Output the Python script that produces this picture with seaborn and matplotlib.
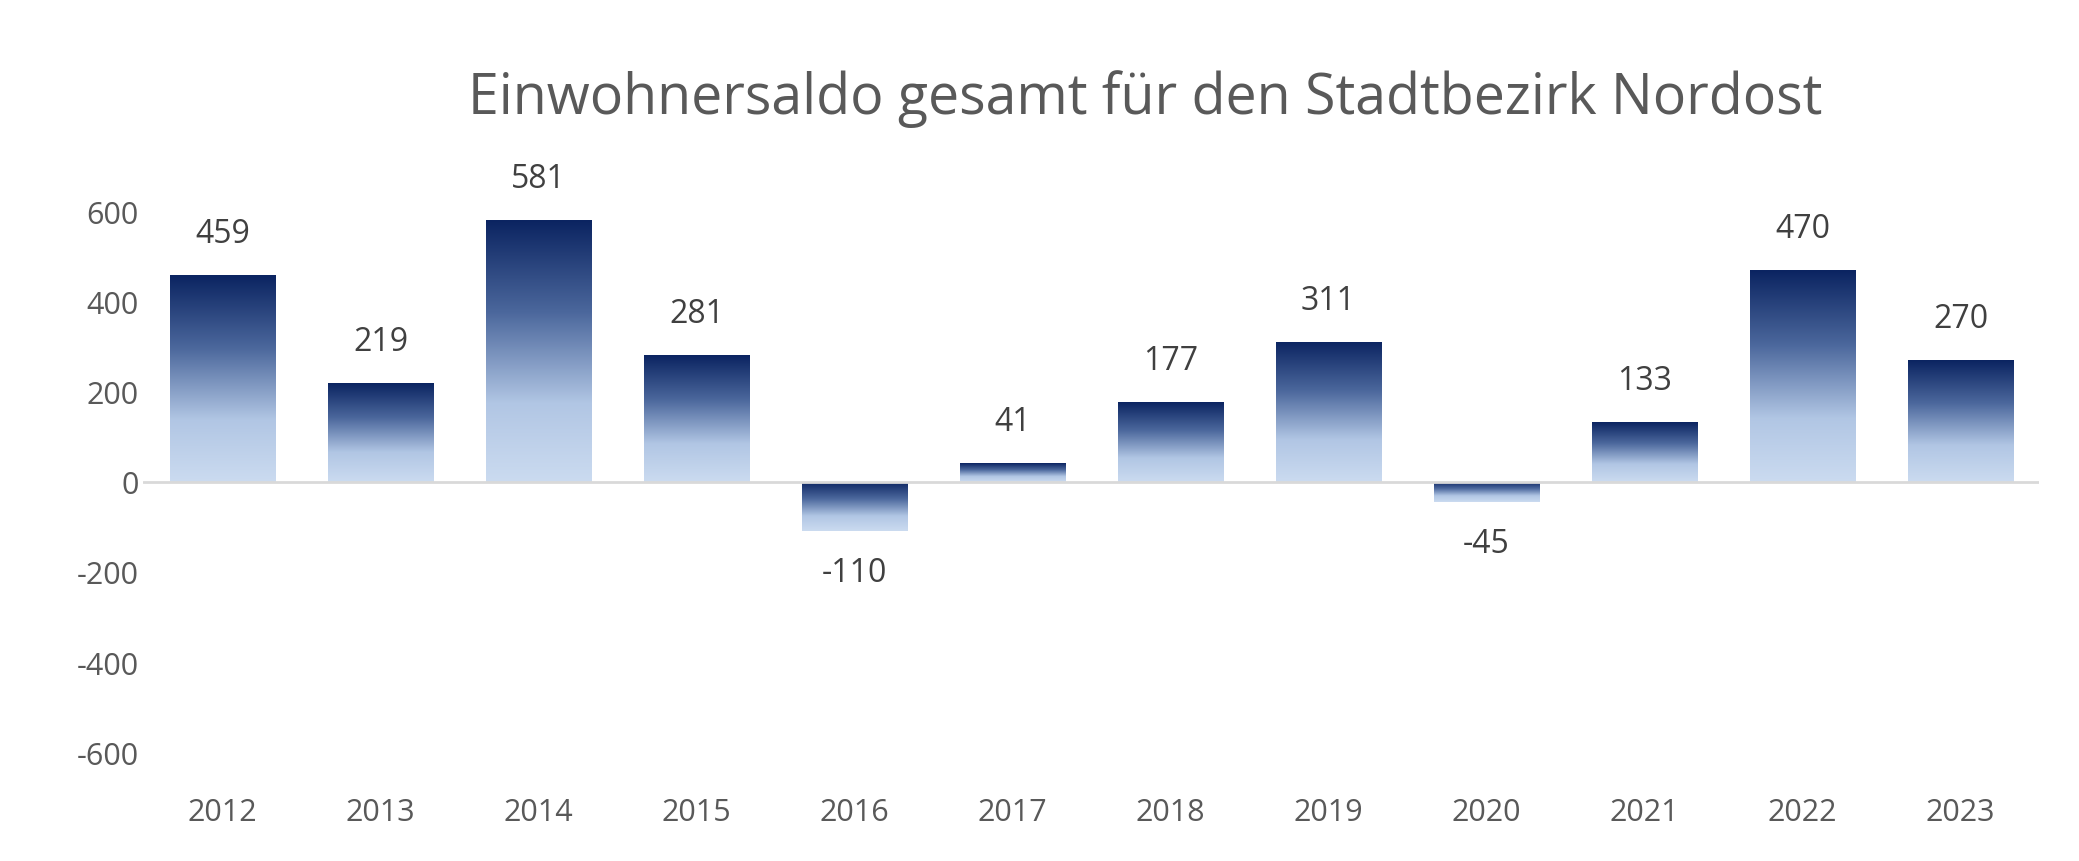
import matplotlib
matplotlib.use("Agg")
import matplotlib.pyplot as plt
import seaborn as sns
import numpy as np
import pandas as pd
from matplotlib.colors import LinearSegmentedColormap

years = ["2012","2013","2014","2015","2016","2017","2018","2019","2020","2021","2022","2023"]
values = [459, 219, 581, 281, -110, 41, 177, 311, -45, 133, 470, 270]
title = "Einwohnersaldo gesamt für den Stadtbezirk Nordost"

sns.set_style("white")
plt.rcParams['font.family'] = ['Open Sans', 'DejaVu Sans']
plt.rcParams['axes.unicode_minus'] = False
grey = "#595959"

fig = plt.figure(figsize=(20.79, 8.62), dpi=100)
ax = fig.add_axes([0.069, 0.074, 0.912, 0.732])
df = pd.DataFrame({"year": years, "value": values})
sns.barplot(data=df, x="year", y="value", ax=ax, color="#b4c8e4", width=0.67, saturation=1)
ax.set_ylim(-700, 700)
ax.set_xlim(-0.5, 11.5)

cmap = LinearSegmentedColormap.from_list("g", [(0, "#0b2461"), (0.35, "#4b679c"), (0.7, "#b1c6e4"), (1, "#cbdbf0")])
grad = np.linspace(0, 1, 256).reshape(-1, 1)
for p in ax.patches:
    x0, y0 = p.get_x(), p.get_y()
    w, h = p.get_width(), p.get_height()
    top = max(y0, y0 + h); bot = min(y0, y0 + h)
    im = ax.imshow(grad, cmap=cmap, aspect="auto", extent=(x0, x0 + w, bot, top), origin="upper", zorder=2)
    im.set_clip_path(p)
    p.set_alpha(0)

ax.axhline(0, color="#d9d9d9", lw=2, zorder=3)
for i, v in enumerate(values):
    if v >= 0:
        ax.annotate(str(v), (i, v), xytext=(0, 18), textcoords="offset points", ha="center", va="bottom", fontsize=23, color="#404040")
    else:
        ax.annotate(str(v), (i, v), xytext=(0, -18), textcoords="offset points", ha="center", va="top", fontsize=23, color="#404040")

ax.set_yticks([-600, -400, -200, 0, 200, 400, 600])
ax.tick_params(axis="both", labelsize=22, colors=grey, length=0)
ax.tick_params(axis="x", pad=0)
ax.set_xlabel(""); ax.set_ylabel("")
for s in ax.spines.values():
    s.set_visible(False)
fig.text(0.551, 0.885, title, ha="center", va="center", fontsize=40, color=grey)
fig.savefig("out.png", dpi=100)
